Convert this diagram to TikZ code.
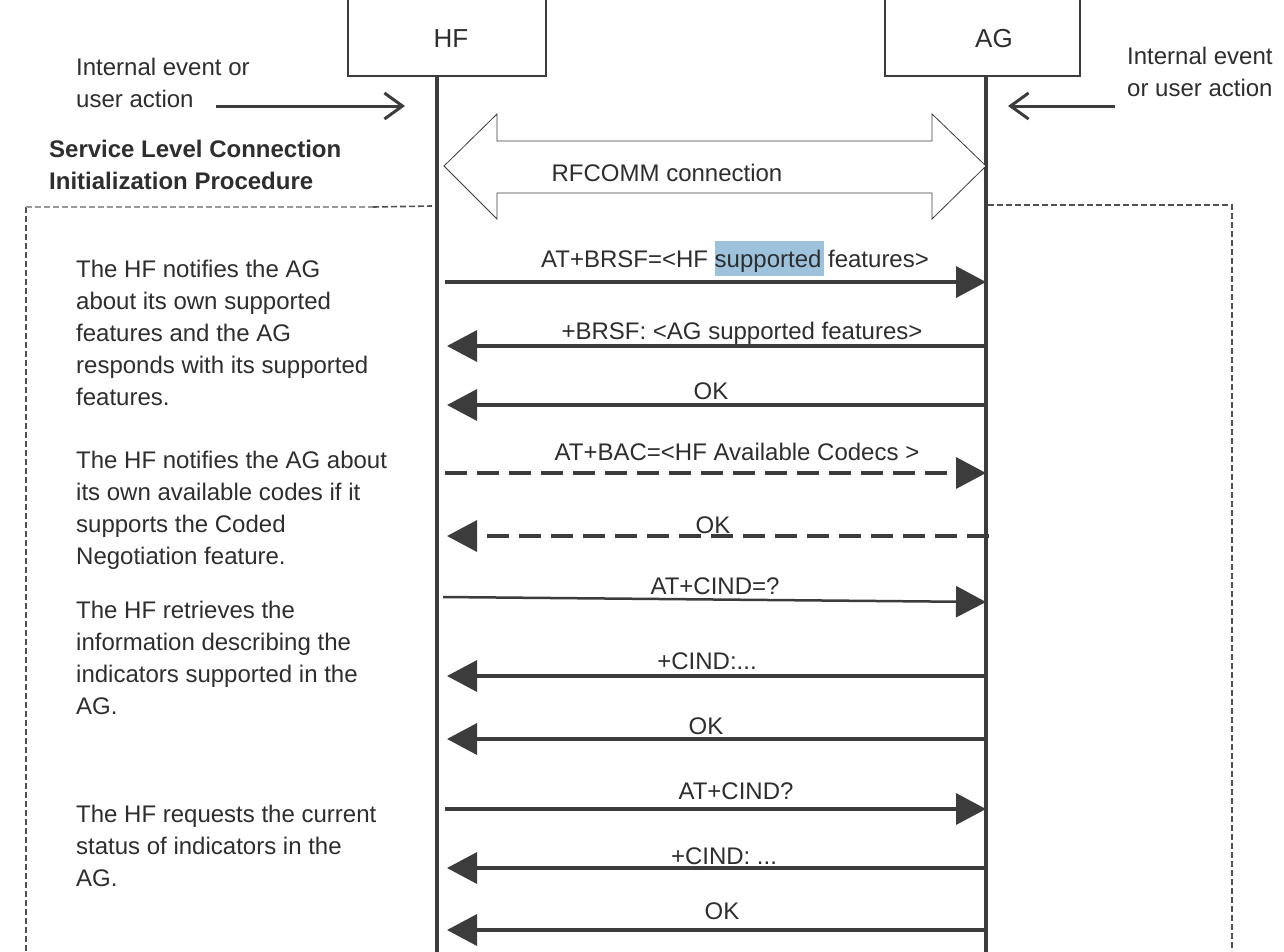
\documentclass[tikz,border=0pt]{standalone}
\usepackage{fontspec}
\setmainfont{Liberation Sans}
\usetikzlibrary{arrows.meta}
\definecolor{ink}{HTML}{3C3C3C}
\definecolor{txt}{HTML}{2E2E2E}
\definecolor{hl}{RGB}{156,195,219}
\definecolor{frm}{HTML}{505050}
\definecolor{frml}{HTML}{999999}
\begin{document}
\begin{tikzpicture}[x=1pt,y=-1pt,
  every node/.style={font=\fontsize{24}{32}\selectfont, text=txt, inner sep=0},
  lbl/.style={anchor=base},
  desc/.style={anchor=north west, align=left},
  actor/.style={draw=ink, line width=1.3, minimum height=90pt},
  life/.style={draw=ink, line width=3.5},
  msg/.style={draw=ink, line width=3.5, -{Triangle[length=30pt,width=31pt]}},
  dmsg/.style={msg, dash pattern=on 22pt off 10pt},
  ev/.style={draw=ink, line width=3, -{Straight Barb[length=18pt,width=26pt]}},
  frame/.style={draw=frm, line width=1.6, dash pattern=on 6pt off 3pt},
  framel/.style={draw=frml, line width=1.2, dash pattern=on 6pt off 3pt},
  dbl/.style={draw=ink, line width=0.8, fill=white}]
\clip (0,0) rectangle (1284,951);
\fill[white] (0,0) rectangle (1284,951);

% actors
\node[actor, minimum width=198pt] (HF) at (447,31) {};
\node[lbl, font=\fontsize{26}{30}\selectfont] (HFt) at (451,47) {HF};
\node[actor, minimum width=195pt] (AG) at (982.5,31) {};
\node[lbl, font=\fontsize{26}{30}\selectfont] (AGt) at (994,47) {AG};

% lifelines
\coordinate (HFend) at (437,960);
\coordinate (AGend) at (986,960);
\draw[life] (HF.south -| HFend) -- (HFend);
\draw[life] (AG.south -| AGend) -- (AGend);

% internal events
\node[desc] (evL) at (76,58) {Internal event or\\user action};
\coordinate (evLs) at (216,106);
\coordinate (evLe) at (405,106);
\draw[ev] (evLs) -- (evLe);
\node[desc] (evR) at (1127,47) {Internal event\\or user action};
\coordinate (evRs) at (1115,106);
\coordinate (evRe) at (1008,106);
\draw[ev] (evRs) -- (evRe);

% title
\node[desc, font=\bfseries\fontsize{24}{32}\selectfont] (title) at (49,140) {Service Level Connection\\Initialization Procedure};

% frame
\coordinate (f1) at (26,951);
\coordinate (f2) at (26,207);
\coordinate (f3) at (373,207);
\coordinate (f4) at (432,206);
\coordinate (f5) at (988,205);
\coordinate (f6) at (1232,205);
\coordinate (f7) at (1232,951);
\draw[frame] (f1) -- (f2);
\draw[framel] (f2) -- (f3);
\draw[frame] (f3) -- (f4);
\draw[frame] (f5) -- (f6) -- (f7);

% RFCOMM double arrow
\draw[dbl] (444,166) -- (497,114) -- (497,141) -- (932,141) -- (932,114) -- (986,166)
  -- (932,219) -- (932,193) -- (497,193) -- (497,219) -- cycle;
\node[lbl] (rf) at (667,181) {RFCOMM connection};

% descriptions
\node[desc] (d1) at (76,260) {The HF notifies the AG\\about its own supported\\features and the AG\\responds with its supported\\features.};
\node[desc] (d2) at (76,451) {The HF notifies the AG about\\its own available codes if it\\supports the Coded\\Negotiation feature.};
\node[desc] (d3) at (76,601) {The HF retrieves the\\information describing the\\indicators supported in the\\AG.};
\node[desc] (d4) at (76,805) {The HF requests the current\\status of indicators in the\\AG.};

% messages
\fill[hl] (715,241) rectangle (824,276);
\coordinate (h1) at (445,282); \coordinate (a1) at (986,282);
\draw[msg] (h1) -- (a1);
\node[lbl] (m1) at (735,267) {AT+BRSF=<HF supported features>};

\coordinate (h2) at (447,346); \coordinate (a2) at (986,346);
\draw[msg] (a2) -- (h2);
\node[lbl] (m2) at (742,339) {+BRSF: <AG supported features>};

\coordinate (h3) at (447,405); \coordinate (a3) at (986,405);
\draw[msg] (a3) -- (h3);
\node[lbl] (m3) at (711,399) {OK};

\coordinate (h4) at (445,473); \coordinate (a4) at (986,473);
\draw[dmsg] (h4) -- (a4);
\node[lbl] (m4) at (737,460) {AT+BAC=<HF Available Codecs >};

\coordinate (h5) at (447,536); \coordinate (a5) at (989,536);
\draw[dmsg] (a5) -- (h5);
\node[lbl] (m5) at (713,533) {OK};

\coordinate (h6) at (443,597); \coordinate (a6) at (986,602);
\draw[msg, line width=2.5] (h6) -- (a6);
\node[lbl] (m6) at (715,594) {AT+CIND=?};

\coordinate (h7) at (447,676); \coordinate (a7) at (986,676);
\draw[msg] (a7) -- (h7);
\node[lbl] (m7) at (707,669) {+CIND:...};

\coordinate (h8) at (447,739); \coordinate (a8) at (986,739);
\draw[msg] (a8) -- (h8);
\node[lbl] (m8) at (706,734) {OK};

\coordinate (h9) at (445,809); \coordinate (a9) at (986,809);
\draw[msg] (h9) -- (a9);
\node[lbl] (m9) at (736,799) {AT+CIND?};

\coordinate (h10) at (447,868); \coordinate (a10) at (986,868);
\draw[msg] (a10) -- (h10);
\node[lbl] (m10) at (724,864) {+CIND: ...};

\coordinate (h11) at (447,930); \coordinate (a11) at (986,930);
\draw[msg] (a11) -- (h11);
\node[lbl] (m11) at (722,919) {OK};
\end{tikzpicture}
\end{document}
